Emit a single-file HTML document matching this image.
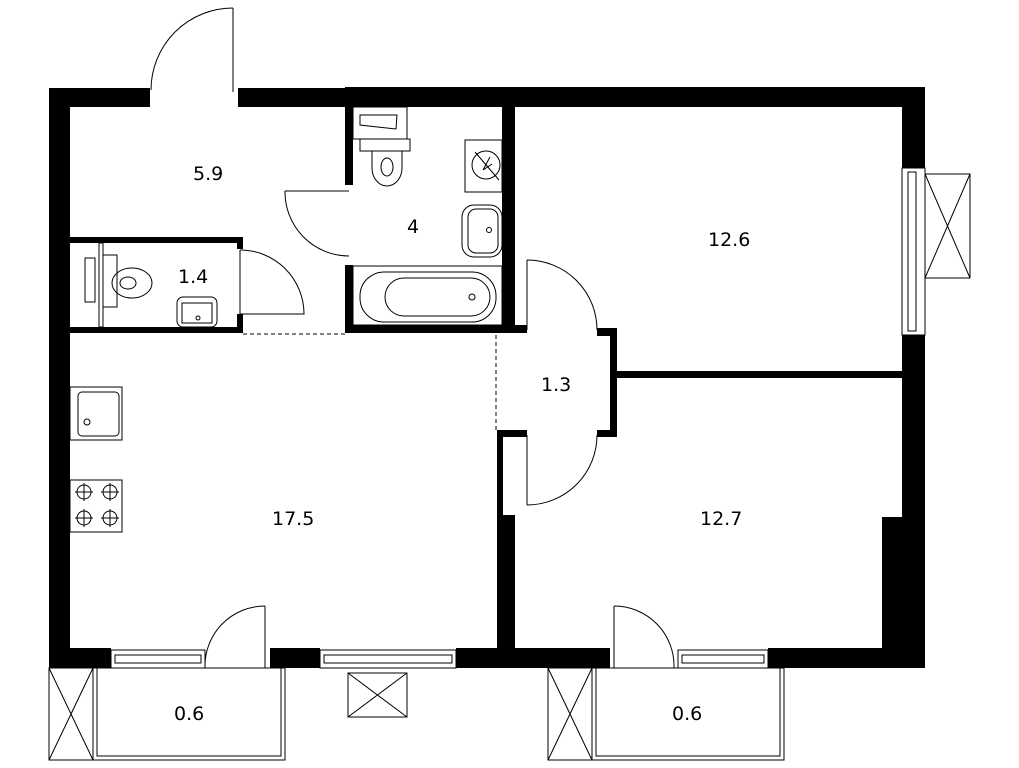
<!DOCTYPE html>
<html><head><style>body{margin:0;background:#fff}svg{display:block}text{font-family:"DejaVu Sans","Liberation Sans",sans-serif;font-size:19px;fill:#000}</style></head>
<body>
<svg width="1019" height="768" viewBox="0 0 1019 768" xmlns="http://www.w3.org/2000/svg">
<g fill="#000">
<!-- outer walls -->
<rect x="49" y="88" width="101" height="19"/>
<rect x="238" y="88" width="107" height="19"/>
<rect x="345" y="87" width="580" height="20"/>
<rect x="49" y="88" width="21" height="580"/>
<rect x="902" y="87" width="23" height="81"/>
<rect x="902" y="335" width="23" height="313"/>
<rect x="882" y="517" width="20" height="131"/>
<!-- bottom -->
<rect x="49" y="648" width="62" height="20"/>
<rect x="270" y="648" width="50" height="20"/>
<rect x="456" y="648" width="154" height="20"/>
<rect x="768" y="648" width="157" height="20"/>
<!-- bathroom -->
<rect x="345" y="107" width="8" height="78"/>
<rect x="345" y="265" width="8" height="68"/>
<rect x="345" y="325" width="170" height="8"/>
<rect x="502" y="107" width="13" height="226"/>
<!-- wc 1.4 -->
<rect x="70" y="237" width="173" height="6"/>
<rect x="237" y="237" width="6" height="12"/>
<rect x="237" y="314" width="6" height="19"/>
<rect x="70" y="327" width="173" height="6"/>
<!-- corridor -->
<rect x="515" y="325" width="12" height="8"/>
<rect x="597" y="328" width="20" height="8"/>
<rect x="610" y="328" width="7" height="109"/>
<rect x="597" y="430" width="20" height="7"/>
<rect x="617" y="371" width="285" height="7"/>
<rect x="497" y="430" width="30" height="7"/>
<rect x="497" y="430" width="6" height="90"/>
<rect x="497" y="515" width="18" height="133"/>
</g>
<g fill="none" stroke="#000" stroke-width="1">
<!-- entry door -->
<line x1="233" y1="8" x2="233" y2="92"/>
<path d="M233 8 A82 82 0 0 0 151 90"/>
<!-- bath door -->
<line x1="285" y1="191" x2="349" y2="191"/>
<path d="M285 191 A64 64 0 0 0 349 256"/>
<!-- wc door -->
<line x1="240" y1="250" x2="240" y2="314"/>
<path d="M240 250 A64 64 0 0 1 304 314 L240 314"/>
<!-- corridor doors -->
<line x1="527" y1="260" x2="527" y2="330"/>
<path d="M527 260 A70 70 0 0 1 597 330"/>
<line x1="527" y1="435" x2="527" y2="505"/>
<path d="M527 505 A70 70 0 0 0 597 435"/>
<!-- balcony doors -->
<line x1="265" y1="606" x2="265" y2="668"/>
<path d="M265 606 A60 60 0 0 0 205 668"/>
<line x1="614" y1="606" x2="614" y2="668"/>
<path d="M614 606 A60 60 0 0 1 674 668"/>
<!-- dashed -->
<line x1="243" y1="334" x2="345" y2="334" stroke-dasharray="4 3"/>
<line x1="496" y1="335" x2="496" y2="430" stroke-dasharray="4 3"/>
<!-- windows bottom -->
<rect x="111" y="650" width="94" height="18"/><rect x="115" y="655" width="86" height="8"/>
<rect x="320" y="650" width="136" height="18"/><rect x="324" y="655" width="128" height="8"/>
<rect x="678" y="650" width="90" height="18"/><rect x="682" y="655" width="82" height="8"/>
<!-- right window -->
<rect x="902" y="168" width="23" height="167"/><rect x="908" y="172" width="8" height="159"/>
<rect x="925" y="174" width="45" height="104"/><path d="M925 174 L970 278 M970 174 L925 278"/>
<!-- AC under kitchen -->
<rect x="348" y="673" width="59" height="44"/><path d="M348 673 L407 717 M407 673 L348 717"/>
<!-- balconies -->
<rect x="49" y="668" width="44" height="92"/><path d="M49 668 L93 760 M93 668 L49 760"/>
<rect x="93" y="668" width="192" height="92"/><rect x="97" y="668" width="184" height="88"/>
<rect x="548" y="668" width="44" height="92"/><path d="M548 668 L592 760 M592 668 L548 760"/>
<rect x="592" y="668" width="192" height="92"/><rect x="596" y="668" width="184" height="88"/>
<!-- bathroom fixtures -->
<rect x="353" y="107" width="54" height="32"/><path d="M360 115 L397 115 L396 129 L360 125 Z"/>
<rect x="360" y="139" width="50" height="12"/>
<path d="M372 151 L372 168 A15 18 0 0 0 402 168 L402 151"/><ellipse cx="387" cy="167" rx="6" ry="9"/>
<rect x="465" y="140" width="37" height="52"/><circle cx="486" cy="165" r="14"/><path d="M475 152 L499 180 M490 157 L483 170 L492 164"/>
<rect x="462" y="205" width="40" height="52" rx="12"/><rect x="468" y="209" width="30" height="44" rx="8"/><circle cx="489" cy="230" r="2.5"/>
<rect x="353" y="266" width="149" height="59"/><rect x="360" y="272" width="136" height="50" rx="24"/><rect x="385" y="278" width="105" height="38" rx="19"/><circle cx="472" cy="297" r="3"/>
<!-- wc fixtures -->
<rect x="99" y="243" width="4" height="84"/><rect x="85" y="258" width="10" height="44"/>
<rect x="103" y="255" width="14" height="52"/><ellipse cx="132" cy="283" rx="20" ry="15"/><ellipse cx="128" cy="283" rx="8" ry="6"/>
<rect x="177" y="297" width="40" height="30" rx="6"/><rect x="182" y="303" width="30" height="20"/><circle cx="198" cy="318" r="2"/>
<!-- kitchen -->
<rect x="70" y="387" width="52" height="53"/><rect x="78" y="392" width="41" height="44" rx="4"/><circle cx="87" cy="422" r="3"/>
<rect x="70" y="480" width="52" height="52"/>
<circle cx="84" cy="492" r="7"/><circle cx="110" cy="492" r="7"/><circle cx="84" cy="518" r="7"/><circle cx="110" cy="518" r="7"/>
<path d="M75 492h18M84 483v18M101 492h18M110 483v18M75 518h18M84 509v18M101 518h18M110 509v18"/>
</g>
<text x="193" y="180">5.9</text>
<text x="407" y="233">4</text>
<text x="178" y="283">1.4</text>
<text x="708" y="246">12.6</text>
<text x="541" y="391">1.3</text>
<text x="272" y="525">17.5</text>
<text x="700" y="525">12.7</text>
<text x="174" y="720">0.6</text>
<text x="672" y="720">0.6</text>
</svg>
</body></html>
